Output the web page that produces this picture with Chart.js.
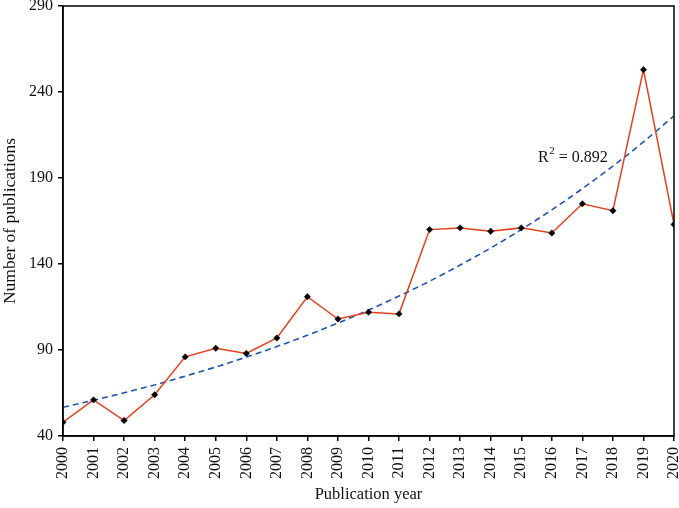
<!DOCTYPE html>
<html><head><meta charset="utf-8">
<script src="https://cdn.jsdelivr.net/npm/chart.js@4/dist/chart.umd.min.js"></script>
<style>html,body{margin:0;padding:0;background:#fff}#wrap{width:679px;height:508px}</style>
</head><body><div id="wrap"><canvas id="c" width="679" height="508"></canvas></div>
<script>
const years = [2000,2001,2002,2003,2004,2005,2006,2007,2008,2009,2010,2011,2012,2013,2014,2015,2016,2017,2018,2019,2020];
const publications = [48,61,49,64,86,91,88,97,121,108,112,111,160,161,159,161,158,175,171,253,163];
const trendValues = [56.7,60.8,65.1,69.7,74.8,80.1,85.9,92.0,98.6,105.7,113.2,121.4,130.0,139.4,149.3,160.0,171.5,183.8,196.9,211.0,226.1];
const yTicks = [40,90,140,190,240,290];
const r2Label = {x: 2015.55, y: 202, base: 'R', sup: '2', rest: ' = 0.892'};

const FONT = '"Liberation Serif", "DejaVu Serif", serif';

const framePlugin = {
  id: 'frame',
  afterDatasetsDraw(chart) {
    const {ctx, chartArea: a, scales} = chart;
    ctx.save();
    ctx.strokeStyle = '#000';
    ctx.lineWidth = 1.5;
    ctx.strokeRect(a.left, a.top, a.right - a.left, a.bottom - a.top);
    const px = scales.x.getPixelForValue(r2Label.x);
    const py = scales.y.getPixelForValue(r2Label.y);
    ctx.fillStyle = '#111';
    ctx.textBaseline = 'middle';
    ctx.textAlign = 'left';
    ctx.font = '16px ' + FONT;
    ctx.fillText(r2Label.base, px, py);
    let w = ctx.measureText(r2Label.base).width;
    ctx.font = '11px ' + FONT;
    ctx.fillText(r2Label.sup, px + w + 0.5, py - 6);
    w += ctx.measureText(r2Label.sup).width + 0.5;
    ctx.font = '16px ' + FONT;
    ctx.fillText(r2Label.rest, px + w, py);
    ctx.restore();
  }
};

new Chart(document.getElementById('c'), {
  type: 'line',
  data: {
    datasets: [
      {
        data: years.map((y, i) => ({x: y, y: publications[i]})),
        borderColor: '#e2401c',
        borderWidth: 1.5,
        pointStyle: 'rectRot',
        pointRadius: 3.2,
        pointBackgroundColor: '#000',
        pointBorderColor: '#000',
        pointBorderWidth: 0.5,
        tension: 0,
        order: 1
      },
      {
        data: years.map((y, i) => ({x: y, y: trendValues[i]})),
        borderColor: '#1f55b0',
        borderWidth: 1.6,
        borderDash: [6, 4],
        pointRadius: 0,
        cubicInterpolationMode: 'monotone',
        order: 2
      }
    ]
  },
  options: {
    responsive: false,
    animation: false,
    layout: {padding: {top: 0, right: 5, left: 0, bottom: 0}},
    plugins: {legend: {display: false}, tooltip: {enabled: false}},
    scales: {
      x: {
        type: 'linear',
        min: years[0], max: years[years.length - 1],
        afterBuildTicks: s => { s.ticks = years.map(v => ({value: v})); },
        afterFit: s => { s.height = 72; s.paddingLeft = 0; s.paddingRight = 0; },
        ticks: {
          color: '#111', font: {family: FONT, size: 16},
          minRotation: 90, maxRotation: 90, autoSkip: false, padding: 6,
          callback: v => String(v)
        },
        grid: {drawOnChartArea: false, color: '#000', tickLength: 5, lineWidth: 1.5},
        border: {color: '#000', width: 1.5},
        title: {display: true, text: 'Publication year', color: '#111', font: {family: FONT, size: 16.5}, padding: {top: 0, bottom: 3}}
      },
      y: {
        min: yTicks[0], max: yTicks[yTicks.length - 1],
        afterBuildTicks: s => { s.ticks = yTicks.map(v => ({value: v})); },
        afterFit: s => { s.width = 63; s.paddingTop = 6; s.paddingBottom = 0; },
        ticks: {color: '#111', font: {family: FONT, size: 16}, padding: 5},
        grid: {drawOnChartArea: false, color: '#000', tickLength: 5, lineWidth: 1.5},
        border: {color: '#000', width: 1.5},
        title: {display: true, text: 'Number of publications', color: '#111', font: {family: FONT, size: 17.5}, padding: {top: 0, bottom: 0}}
      }
    }
  },
  plugins: [framePlugin]
});
</script>
</body></html>
